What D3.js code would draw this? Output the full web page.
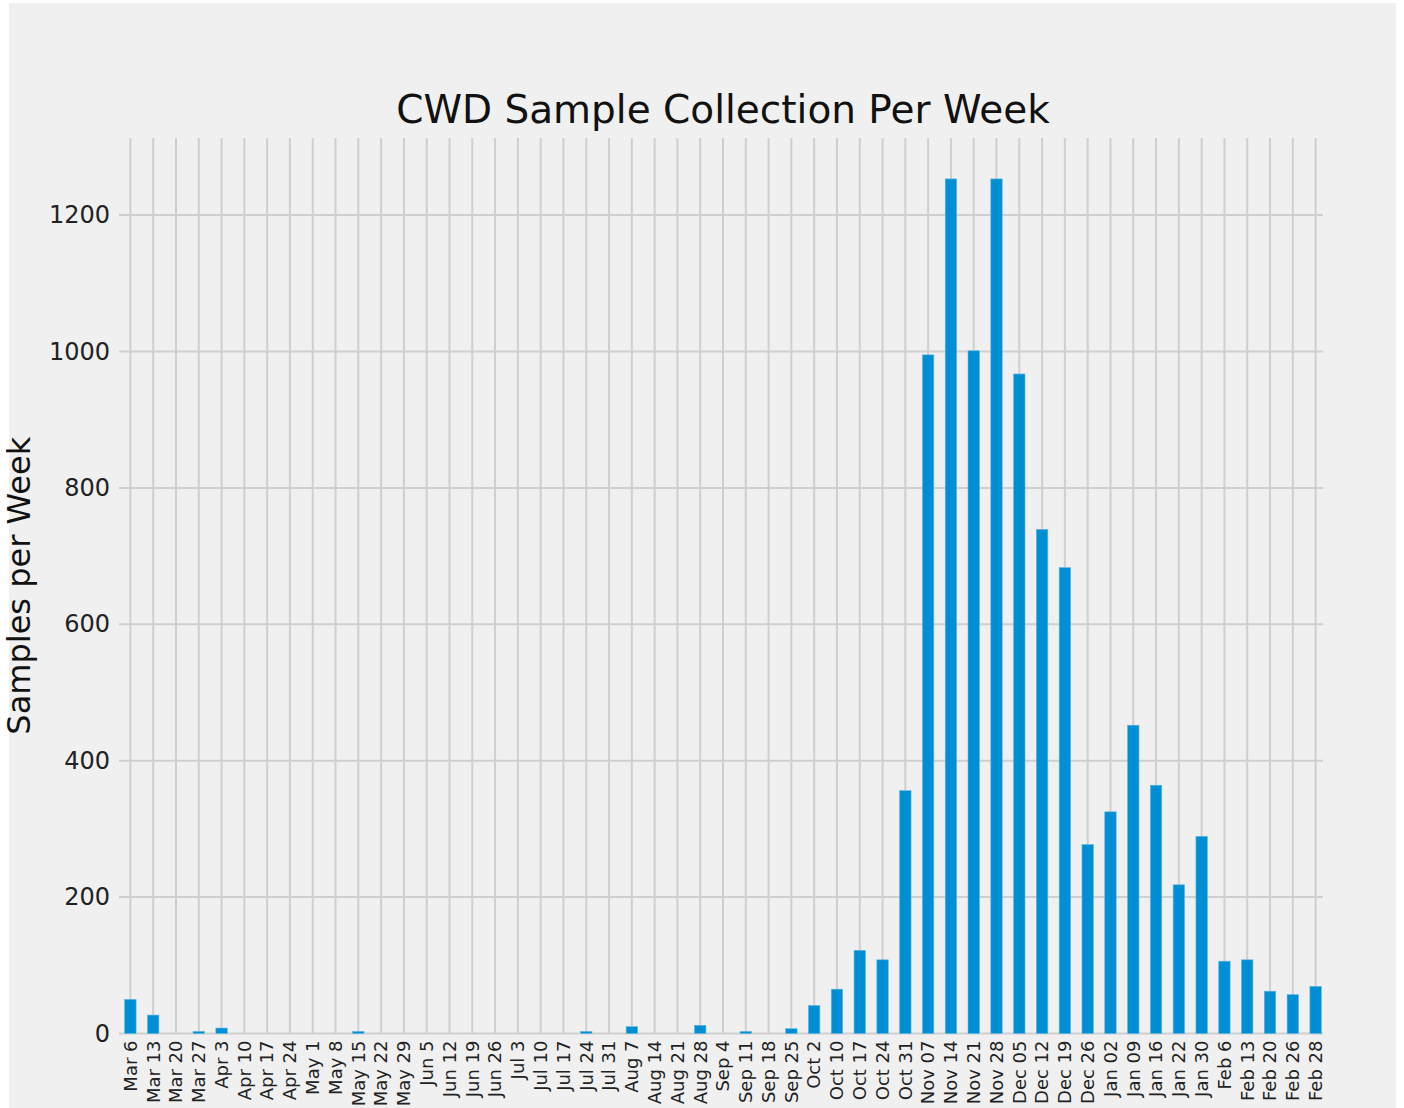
<!DOCTYPE html>
<html>
  <head>
    <meta charset="UTF-8">
    <title>CWD Sample Collection Per Week</title>
    <script src="https://d3js.org/d3.v7.min.js"></script>
    <style>
      body { margin: 0; background: #ffffff; }
      text { font-family: "DejaVu Sans", sans-serif; }
    </style>
  </head>
  <body>
    <div id="chart-container"></div>
  <script type="text/javascript">

    // Week labels (x categories)
    const weeks = ["Mar 6", "Mar 13", "Mar 20", "Mar 27", "Apr 3", "Apr 10", "Apr 17", "Apr 24",
        "May 1", "May 8", "May 15", "May 22", "May 29", "Jun 5", "Jun 12", "Jun 19", "Jun 26",
        "Jul 3", "Jul 10", "Jul 17", "Jul 24", "Jul 31", "Aug 7", "Aug 14", "Aug 21", "Aug 28",
        "Sep 4", "Sep 11", "Sep 18", "Sep 25", "Oct 2", "Oct 10", "Oct 17", "Oct 24", "Oct 31",
        "Nov 07", "Nov 14", "Nov 21", "Nov 28", "Dec 05", "Dec 12", "Dec 19", "Dec 26",
        "Jan 02", "Jan 09", "Jan 16", "Jan 22", "Jan 30", "Feb 6", "Feb 13", "Feb 20", "Feb 26", "Feb 28"];

    // Samples collected each week
    const samples = [50, 27, 0, 3, 8, 0, 0, 0,
        0, 0, 3, 0, 0, 0, 0, 0, 0,
        0, 0, 0, 3, 0, 10, 0, 0, 12,
        0, 3, 0, 7, 41, 65, 122, 108, 356,
        995, 1253, 1001, 1253, 967, 739, 683, 277,
        325, 452, 364, 218, 289, 106, 108, 62, 57, 69];

    const yTicks = [0, 200, 400, 600, 800, 1000, 1200];

    const data = weeks.map((w, i) => ({week: w, value: samples[i]}));

    // Chart area
    const width = 1404;
    const height = 1108;
    const margin = ({top: 138, right: 1404 - 1327, bottom: 1108 - 1033.5, left: 119});

    const x = d3.scaleBand()
        .domain(weeks)
        .range([margin.left, width - margin.right])
        .paddingInner(0.5)
        .paddingOuter(0.25);

    const y = d3.scaleLinear()
        .domain([0, 1313])
        .range([height - margin.bottom, margin.top]);

    const svg = d3.select("#chart-container")
        .append("svg")
        .attr("width", width)
        .attr("height", height);

    // figure background
    svg.append("rect")
        .attr("x", 9).attr("y", 3)
        .attr("width", 1387).attr("height", height)
        .attr("fill", "#f0f0f0");

    // vertical grid lines, one per week
    svg.append("g")
        .selectAll("line")
        .data(weeks)
        .join("line")
        .attr("x1", d => x(d) + x.bandwidth() / 2)
        .attr("x2", d => x(d) + x.bandwidth() / 2)
        .attr("y1", y.range()[1])
        .attr("y2", y.range()[0])
        .attr("stroke", "#cfcfcf")
        .attr("stroke-width", 2);

    // horizontal grid lines
    svg.append("g")
        .selectAll("line")
        .data(yTicks)
        .join("line")
        .attr("x1", margin.left)
        .attr("x2", 1323)
        .attr("y1", d => y(d))
        .attr("y2", d => y(d))
        .attr("stroke", "#cfcfcf")
        .attr("stroke-width", 2);

    // bars
    svg.append("g")
        .selectAll("rect")
        .data(data)
        .join("rect")
        .attr("x", d => x(d.week))
        .attr("width", x.bandwidth())
        .attr("y", d => y(d.value))
        .attr("height", d => y(0) - y(d.value))
        .attr("fill", "#008fd5")
        .attr("stroke", "#5ab4e3")
        .attr("stroke-width", 0.6);

    // Y axis
    const yAxis = g => g
        .attr("transform", `translate(${margin.left},0)`)
        .call(d3.axisLeft(y).tickValues(yTicks).tickFormat(d3.format("d")).tickSize(0).tickPadding(9))
        .call(g => g.select(".domain").remove())
        .call(g => g.selectAll("text")
            .attr("font-size", 24)
            .attr("font-family", "DejaVu Sans")
            .attr("fill", "#222"));

    // X axis
    const xAxis = g => g
        .attr("transform", `translate(0,${height - margin.bottom})`)
        .call(d3.axisBottom(x).tickSize(0).tickPadding(0))
        .call(g => g.select(".domain").remove())
        .call(g => g.selectAll("text")
            .attr("font-size", 18)
            .attr("font-family", "DejaVu Sans")
            .attr("fill", "#222")
            .attr("text-anchor", "end")
            .attr("dy", "0.35em")
            .attr("transform", "translate(0,7) rotate(-90)")
            .attr("y", 0)
            .attr("x", 0));

    for (const axis of [xAxis, yAxis]) {
        svg.append("g").call(axis);
    }

    // title
    svg.append("text")
        .attr("x", 723)
        .attr("y", 123)
        .attr("text-anchor", "middle")
        .attr("font-size", 39)
        .attr("fill", "#111")
        .text("CWD Sample Collection Per Week");

    // y label
    svg.append("text")
        .attr("transform", `translate(30,${(y.range()[0] + y.range()[1]) / 2}) rotate(-90)`)
        .attr("text-anchor", "middle")
        .attr("font-size", 32)
        .attr("fill", "#111")
        .text("Samples per Week");

  </script>
  </body>
</html>
